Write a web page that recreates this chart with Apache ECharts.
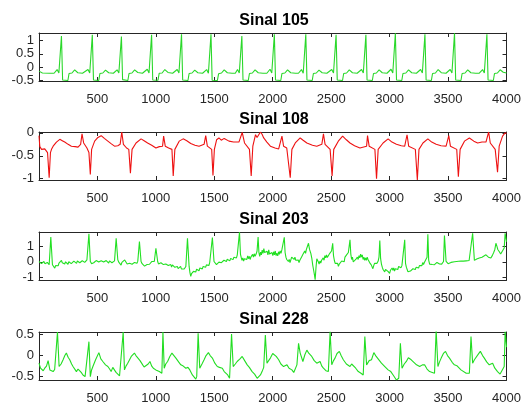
<!DOCTYPE html>
<html>
<head>
<meta charset="utf-8">
<script src="https://cdn.jsdelivr.net/npm/echarts@6/dist/echarts.min.js"></script>
<style>
  html, body { margin: 0; padding: 0; background: #fff; }
  #chart { width: 524px; height: 406px; }
</style>
</head>
<body>
<div id="chart"></div>
<script>
// values, [sample, amplitude]
var sinal105 = [
  [1,-0.15],[12,-0.1],[30,-0.22],[90,-0.23],[130,-0.23],
  [156,-0.09],[171,-0.22],[186,-0.27],[193,1.17],[203,-0.48],[218,-0.51],[248,-0.5],[258,-0.24],[283,-0.22],[306,-0.1],[333,-0.21],[373,-0.23],
  [420,-0.09],[435,-0.22],[450,-0.27],[457,1.21],[467,-0.48],[482,-0.51],[512,-0.5],[522,-0.24],[547,-0.22],[570,-0.11],[597,-0.21],[637,-0.23],
  [669,-0.1],[684,-0.22],[699,-0.27],[706,1.15],[716,-0.47],[731,-0.5],[761,-0.5],[771,-0.24],[796,-0.22],[819,-0.1],[846,-0.2],[886,-0.23],
  [927,-0.08],[942,-0.22],[957,-0.27],[964,1.21],[974,-0.48],[989,-0.51],[1019,-0.49],[1029,-0.23],[1054,-0.22],[1077,-0.09],[1104,-0.2],[1144,-0.23],
  [1183,-0.09],[1198,-0.22],[1213,-0.27],[1220,1.23],[1230,-0.48],[1245,-0.5],[1275,-0.5],[1285,-0.24],[1310,-0.22],[1333,-0.11],[1360,-0.21],[1400,-0.23],
  [1435,-0.09],[1450,-0.23],[1465,-0.27],[1472,1.23],[1482,-0.49],[1497,-0.51],[1527,-0.5],[1537,-0.25],[1562,-0.22],[1585,-0.1],[1612,-0.21],[1652,-0.23],[1680,-0.23],
  [1699,-0.09],[1714,-0.22],[1729,-0.27],[1736,1.17],[1746,-0.48],[1761,-0.51],[1791,-0.5],[1801,-0.24],[1826,-0.22],[1849,-0.1],[1876,-0.21],[1916,-0.23],[1950,-0.23],
  [1977,-0.08],[1992,-0.22],[2007,-0.27],[2014,1.23],[2024,-0.48],[2039,-0.51],[2069,-0.5],[2079,-0.24],[2104,-0.22],[2127,-0.1],[2154,-0.21],[2194,-0.23],[2220,-0.23],
  [2246,-0.09],[2261,-0.23],[2276,-0.27],[2283,1.23],[2293,-0.48],[2308,-0.51],[2338,-0.5],[2348,-0.24],[2373,-0.22],[2396,-0.11],[2423,-0.21],[2463,-0.23],
  [2505,-0.09],[2520,-0.22],[2535,-0.27],[2542,1.21],[2552,-0.48],[2567,-0.5],[2597,-0.5],[2607,-0.24],[2632,-0.22],[2655,-0.1],[2682,-0.21],[2722,-0.23],
  [2760,-0.09],[2775,-0.22],[2790,-0.27],[2797,1.21],[2807,-0.48],[2822,-0.51],[2852,-0.5],[2862,-0.24],[2887,-0.22],[2910,-0.1],[2937,-0.21],[2977,-0.23],
  [3012,-0.08],[3027,-0.22],[3042,-0.27],[3049,1.27],[3059,-0.48],[3074,-0.51],[3104,-0.5],[3114,-0.24],[3139,-0.22],[3162,-0.1],[3189,-0.21],[3229,-0.23],
  [3265,-0.09],[3280,-0.22],[3295,-0.27],[3302,1.23],[3312,-0.48],[3327,-0.51],[3357,-0.5],[3367,-0.24],[3392,-0.22],[3415,-0.09],[3442,-0.21],[3482,-0.23],
  [3518,-0.09],[3533,-0.22],[3548,-0.27],[3555,1.27],[3565,-0.48],[3580,-0.51],[3610,-0.5],[3620,-0.24],[3645,-0.22],[3668,-0.1],[3695,-0.21],[3735,-0.23],[3765,-0.23],
  [3795,-0.09],[3810,-0.22],[3825,-0.27],[3832,1.23],[3842,-0.48],[3857,-0.51],[3887,-0.5],[3897,-0.24],[3922,-0.22],[3945,-0.1],[3972,-0.19],[4000,-0.22]
];

var sinal108 = [
  [1,-0.06],[8,-0.3],[23,-0.36],[50,-0.35],[65,-0.37],[74,-0.43],[88,-0.98],[99,-0.43],[108,-0.36],[122,-0.29],[150,-0.2],[179,-0.14],
  [200,-0.17],[221,-0.2],[250,-0.25],[278,-0.29],[310,-0.3],[335,-0.31],[357,-0.25],[369,-0.02],[383,-0.22],[411,-0.33],[428,-0.43],
  [440,-0.91],[451,-0.36],[477,-0.18],[505,-0.1],[533,-0.06],[560,-0.12],[590,-0.18],[620,-0.24],[647,-0.29],[675,-0.28],[695,-0.25],
  [709,0.02],[723,-0.25],[750,-0.33],[769,-0.36],[783,-0.88],[797,-0.36],[831,-0.22],[874,-0.13],[900,-0.17],[930,-0.22],[965,-0.27],
  [1001,-0.33],[1030,-0.3],[1058,-0.29],[1067,-0.07],[1081,-0.29],[1110,-0.33],[1138,-0.36],[1149,-0.94],[1163,-0.36],[1200,-0.18],
  [1234,-0.13],[1265,-0.17],[1299,-0.23],[1335,-0.27],[1370,-0.29],[1413,-0.25],[1427,-0.06],[1441,-0.29],[1478,-0.36],[1489,-0.93],
  [1501,-0.36],[1520,-0.15],[1540,-0.11],[1560,-0.16],[1585,-0.12],[1626,-0.18],[1665,-0.2],[1711,-0.2],[1739,0.01],[1759,-0.22],
  [1801,-0.36],[1816,-0.94],[1830,-0.29],[1853,-0.04],[1866,-0.1],[1880,-0.08],[1895,0.02],[1909,-0.03],[1923,-0.11],[1950,-0.2],
  [1980,-0.29],[2020,-0.33],[2051,-0.35],[2079,-0.07],[2093,-0.29],[2120,-0.33],[2136,-0.36],[2150,-0.98],[2164,-0.36],[2193,-0.22],
  [2235,-0.11],[2260,-0.16],[2292,-0.22],[2340,-0.27],[2377,-0.29],[2420,-0.25],[2434,-0.02],[2448,-0.25],[2491,-0.36],[2508,-0.94],
  [2522,-0.36],[2561,-0.18],[2598,-0.07],[2630,-0.15],[2661,-0.22],[2700,-0.28],[2746,-0.33],[2803,-0.29],[2811,-0.06],[2825,-0.29],
  [2874,-0.36],[2888,-1.0],[2902,-0.36],[2944,-0.22],[2987,-0.13],[3020,-0.2],[3058,-0.25],[3100,-0.28],[3129,-0.29],[3149,-0.04],
  [3163,-0.29],[3220,-0.36],[3237,-1.03],[3251,-0.36],[3285,-0.22],[3327,-0.13],[3360,-0.2],[3398,-0.25],[3440,-0.28],[3483,-0.29],
  [3506,-0.06],[3520,-0.29],[3574,-0.36],[3588,-0.96],[3603,-0.36],[3640,-0.18],[3682,-0.11],[3720,-0.18],[3753,-0.22],[3790,-0.2],
  [3824,-0.2],[3847,0.02],[3861,-0.22],[3903,-0.36],[3923,-0.86],[3937,-0.29],[3966,-0.07],[3988,0.0],[4000,-0.01]
];

var sinal203 = [
  [1,0.02],[8,-0.06],[15,0.04],[22,-0.12],[29,0.0],[36,-0.08],[43,0.02],[51,-0.12],[58,-0.02],[65,-0.1],[72,-0.04],[80,-0.16],
  [88,-0.19],[102,1.6],[116,-0.19],[126,-0.3],[136,-0.41],[143,-0.25],[150,-0.35],[157,-0.18],[165,-0.26],[172,-0.08],[180,-0.14],
  [193,0.09],[200,-0.06],[207,-0.16],[214,-0.04],[221,-0.14],[228,0.0],[235,-0.12],[242,-0.02],[249,-0.16],[256,0.0],[263,-0.1],
  [270,0.02],[277,-0.12],[284,0.0],[292,-0.08],[299,0.04],[306,-0.06],[315,0.03],[322,-0.1],[329,0.05],[336,-0.04],[343,0.06],
  [350,-0.06],[357,0.04],[364,-0.05],[371,0.07],[378,-0.02],[385,0.08],[392,-0.04],[399,0.08],[411,0.13],[428,1.81],[440,0.02],
  [451,-0.12],[462,-0.22],[469,-0.06],[476,0.04],[483,-0.06],[490,0.08],[497,-0.02],[505,0.1],[512,-0.02],[519,0.08],[526,-0.06],
  [533,0.06],[540,-0.04],[547,0.1],[554,-0.02],[561,0.08],[568,-0.06],[576,0.08],[583,-0.04],[590,0.06],[597,-0.08],[604,0.06],
  [611,-0.04],[618,0.08],[625,-0.06],[632,0.02],[647,0.06],[661,1.53],[675,0.13],[683,-0.02],[690,-0.14],[697,-0.06],[703,-0.22],
  [710,-0.04],[720,0.04],[727,-0.05],[734,0.12],[741,0.02],[748,0.06],[755,-0.14],[762,-0.06],[769,-0.2],[776,-0.1],[783,-0.2],
  [790,-0.04],[797,-0.16],[804,-0.06],[811,-0.18],[818,-0.04],[825,-0.14],[832,0.0],[839,-0.1],[846,0.04],[851,0.02],[860,1.31],
  [874,0.02],[883,-0.12],[890,-0.24],[897,-0.14],[904,-0.28],[911,-0.2],[918,-0.34],[925,-0.18],[932,-0.22],[939,-0.08],[946,-0.16],
  [953,-0.04],[960,-0.12],[967,0.02],[974,-0.06],[981,0.06],[987,0.02],[1001,0.88],[1016,0.02],[1023,-0.14],[1030,-0.04],[1037,-0.16],
  [1044,-0.06],[1051,-0.14],[1058,-0.04],[1065,-0.18],[1072,-0.1],[1079,-0.26],[1086,-0.14],[1093,-0.22],[1100,-0.1],[1107,-0.24],
  [1114,-0.14],[1121,-0.28],[1128,-0.18],[1135,-0.34],[1142,-0.2],[1149,-0.3],[1156,-0.22],[1163,-0.36],[1170,-0.26],[1177,-0.4],
  [1184,-0.3],[1191,-0.44],[1198,-0.32],[1205,-0.42],[1212,-0.3],[1219,-0.46],[1226,-0.36],[1233,-0.5],[1243,-0.47],[1257,-0.3],
  [1271,1.53],[1285,-0.3],[1292,-0.7],[1299,-0.95],[1306,-0.76],[1315,-0.84],[1322,-0.62],[1328,-0.72],[1335,-0.52],[1342,-0.66],
  [1349,-0.48],[1356,-0.6],[1363,-0.44],[1370,-0.58],[1377,-0.4],[1384,-0.52],[1391,-0.34],[1398,-0.46],[1405,-0.3],[1412,-0.42],
  [1419,-0.24],[1426,-0.36],[1433,-0.2],[1440,-0.3],[1447,-0.12],[1454,-0.24],[1461,-0.06],[1470,-0.12],[1484,1.57],
  [1498,0.02],[1505,-0.1],[1512,-0.02],[1519,-0.18],[1526,-0.08],[1533,-0.2],[1540,-0.02],[1547,-0.1],[1554,0.05],[1561,-0.06],
  [1569,0.06],[1576,-0.04],[1583,0.1],[1590,0.0],[1597,0.12],[1604,0.02],[1611,0.16],[1618,0.05],[1626,0.2],[1633,0.06],[1640,0.22],
  [1647,0.1],[1654,0.28],[1661,0.14],[1668,0.3],[1675,0.18],[1682,0.34],[1690,0.25],[1697,0.45],[1705,0.56],[1716,1.92],[1724,0.5],
  [1730,0.3],[1737,0.1],[1744,0.25],[1751,0.05],[1758,0.2],[1765,0.08],[1772,0.3],[1779,0.15],[1786,0.38],[1793,0.2],[1800,0.35],
  [1807,0.15],[1814,0.32],[1821,0.25],[1828,0.48],[1835,0.3],[1842,0.52],[1849,0.35],[1858,0.5],[1866,0.7],[1875,1.6],[1882,0.6],
  [1889,0.35],[1896,0.62],[1903,0.45],[1910,0.75],[1917,0.55],[1924,0.85],[1931,0.6],[1938,0.72],[1945,0.5],[1952,0.68],[1959,0.45],
  [1966,0.78],[1973,0.5],[1980,0.62],[1987,0.42],[1994,0.6],[2001,0.4],[2008,0.65],[2015,0.45],[2022,0.7],[2029,0.4],[2036,0.55],
  [2043,0.38],[2050,0.65],[2057,0.48],[2064,0.7],[2071,0.55],[2079,0.8],[2090,0.9],[2099,1.59],[2106,0.6],[2113,0.3],[2120,0.15],
  [2127,0.25],[2134,0.02],[2141,0.15],[2148,-0.05],[2155,0.12],[2162,0.3],[2169,0.18],[2176,0.35],[2183,0.15],[2190,0.3],[2197,0.1],
  [2204,0.2],[2211,-0.02],[2218,0.12],[2225,-0.05],[2232,0.1],[2239,0.02],[2246,0.3],[2253,0.2],[2260,0.5],[2267,0.4],[2274,0.7],
  [2281,0.55],[2288,0.8],[2295,0.7],[2306,1.2],[2315,0.8],[2326,0.55],[2335,0.2],[2342,-0.2],[2349,-0.5],[2356,-0.8],[2363,-1.16],
  [2370,-0.4],[2377,0.2],[2383,0.3],[2390,0.0],[2397,-0.15],[2404,0.05],[2411,-0.08],[2418,0.1],[2425,0.0],[2432,0.25],[2439,0.1],
  [2446,0.4],[2453,0.25],[2460,0.45],[2467,0.28],[2474,0.4],[2481,0.3],[2488,0.55],[2495,0.45],[2503,0.7],[2513,1.2],[2520,0.4],
  [2527,0.1],[2534,-0.1],[2541,0.0],[2548,-0.2],[2555,-0.1],[2562,-0.3],[2569,-0.15],[2576,-0.05],[2583,-0.15],[2590,0.05],
  [2597,-0.05],[2604,0.1],[2611,0.0],[2618,0.3],[2625,0.2],[2632,0.45],[2639,0.35],[2647,0.6],[2654,0.7],[2661,1.42],[2668,0.5],
  [2675,0.15],[2682,0.3],[2689,0.0],[2696,0.1],[2703,-0.05],[2710,0.15],[2717,0.05],[2724,0.3],[2731,0.15],[2738,0.4],[2745,0.25],
  [2752,0.5],[2759,0.3],[2766,0.45],[2773,0.15],[2780,0.3],[2787,0.1],[2794,0.25],[2801,0.1],[2808,0.3],[2815,0.15],[2822,0.2],
  [2829,-0.05],[2836,0.05],[2843,-0.2],[2850,-0.1],[2857,-0.45],[2864,-0.25],[2871,-0.1],[2878,-0.2],[2885,0.0],[2892,-0.1],
  [2902,0.05],[2909,0.3],[2916,1.38],[2923,0.2],[2930,-0.15],[2937,-0.35],[2944,-0.5],[2951,-0.4],[2958,-0.65],[2965,-0.5],
  [2972,-0.6],[2979,-0.4],[2986,-0.62],[2993,-0.5],[3000,-0.75],[3007,-0.55],[3014,-0.65],[3021,-0.4],[3028,-0.55],[3035,-0.4],
  [3042,-0.6],[3049,-0.45],[3056,-0.55],[3063,-0.35],[3070,-0.5],[3077,-0.3],[3084,-0.42],[3091,-0.25],[3098,-0.38],[3105,-0.25],
  [3112,-0.35],[3120,-0.2],[3129,1.42],[3136,-0.1],[3143,-0.35],[3150,-0.5],[3157,-0.65],[3164,-0.55],[3171,-0.75],[3178,-0.6],
  [3185,-0.5],[3192,-0.62],[3199,-0.45],[3206,-0.55],[3213,-0.4],[3220,-0.5],[3227,-0.35],[3234,-0.45],[3241,-0.3],[3248,-0.4],
  [3255,-0.25],[3262,-0.35],[3269,-0.15],[3276,-0.25],[3283,-0.05],[3290,-0.18],[3297,-0.05],[3304,-0.15],[3313,0.02],[3320,0.3],
  [3327,1.78],[3334,0.1],[3342,-0.15],[3350,-0.1],[3358,-0.26],[3365,-0.18],[3372,-0.28],[3384,-0.19],[3391,-0.08],[3398,-0.14],
  [3405,-0.04],[3412,-0.12],[3420,-0.06],[3427,-0.14],[3434,-0.08],[3445,-0.15],[3455,-0.04],[3461,0.02],[3469,1.7],[3483,0.02],
  [3492,-0.06],[3500,-0.12],[3512,-0.09],[3525,-0.04],[3540,-0.02],[3555,0.0],[3569,0.02],[3590,0.03],[3610,0.04],[3630,0.04],
  [3654,0.06],[3680,0.08],[3696,0.09],[3710,1.85],[3725,0.09],[3745,0.18],[3767,0.24],[3780,0.2],[3790,0.3],[3805,0.36],[3824,0.45],
  [3835,0.38],[3845,0.3],[3856,0.2],[3866,0.24],[3878,0.4],[3890,0.6],[3900,0.8],[3909,1.2],[3918,1.0],[3925,0.8],[3937,0.67],
  [3950,0.5],[3966,0.56],[3980,0.9],[3988,1.85],[4000,1.3]
];

var sinal228 = [
  [1,-0.18],[14,-0.3],[37,-0.36],[50,-0.3],[65,-0.25],[79,-0.12],[94,-0.34],[110,-0.36],[122,-0.38],[135,-0.33],[145,-0.3],[159,0.56],
  [173,-0.26],[190,-0.2],[207,-0.1],[222,0.0],[235,0.06],[250,-0.04],[264,-0.1],[280,-0.2],[292,-0.26],[305,-0.3],[321,-0.38],
  [335,-0.32],[349,-0.3],[362,-0.4],[377,-0.46],[395,-0.5],[411,-0.54],[428,0.33],[440,-0.5],[450,-0.35],[462,-0.26],[485,-0.1],
  [513,0.07],[530,-0.08],[547,-0.14],[570,-0.22],[590,-0.26],[605,-0.32],[618,-0.38],[632,-0.28],[647,-0.3],[660,-0.4],[675,-0.44],
  [690,-0.48],[703,-0.5],[721,0.56],[732,-0.34],[745,-0.25],[760,-0.18],[790,-0.02],[817,0.06],[830,0.0],[845,-0.04],[865,-0.12],
  [888,-0.22],[900,-0.27],[916,-0.3],[935,-0.2],[950,-0.14],[965,-0.25],[979,-0.3],[1000,-0.34],[1030,-0.38],[1052,-0.42],[1061,0.56],
  [1072,-0.3],[1085,-0.2],[1101,-0.14],[1120,-0.02],[1138,0.06],[1155,0.0],[1172,-0.06],[1195,-0.15],[1214,-0.22],[1235,-0.25],
  [1257,-0.3],[1275,-0.28],[1291,-0.34],[1313,-0.46],[1330,-0.5],[1342,-0.56],[1350,-0.5],[1362,0.53],[1376,-0.3],[1395,-0.2],
  [1413,-0.1],[1430,0.0],[1450,0.07],[1465,0.0],[1484,-0.06],[1505,-0.18],[1526,-0.26],[1545,-0.28],[1569,-0.3],[1585,-0.38],
  [1597,-0.42],[1615,-0.46],[1631,-0.54],[1640,-0.5],[1648,0.51],[1662,-0.26],[1680,-0.2],[1696,-0.14],[1720,-0.08],[1739,-0.02],
  [1760,-0.12],[1782,-0.22],[1800,-0.28],[1824,-0.38],[1845,-0.44],[1867,-0.54],[1881,-0.5],[1895,-0.46],[1909,-0.38],[1923,-0.28],
  [1937,0.49],[1951,-0.18],[1965,-0.12],[1980,-0.06],[2000,0.05],[2014,0.07],[2030,-0.02],[2051,-0.1],[2070,-0.2],[2093,-0.26],
  [2108,-0.25],[2122,-0.22],[2140,-0.3],[2164,-0.34],[2180,-0.4],[2193,-0.42],[2207,-0.22],[2221,0.29],[2235,0.06],[2258,-0.14],
  [2275,0.02],[2292,0.13],[2310,0.05],[2334,-0.02],[2355,-0.12],[2377,-0.18],[2392,-0.16],[2405,-0.14],[2420,-0.25],[2434,-0.3],
  [2455,-0.36],[2476,-0.38],[2491,0.57],[2505,-0.22],[2520,-0.12],[2533,-0.06],[2550,0.05],[2570,0.1],[2585,0.0],[2604,-0.1],
  [2630,-0.2],[2661,-0.26],[2675,-0.2],[2689,-0.18],[2710,-0.3],[2732,-0.38],[2755,-0.42],[2774,-0.46],[2788,0.45],[2803,-0.22],
  [2825,-0.12],[2845,-0.1],[2865,0.07],[2885,-0.02],[2902,-0.06],[2930,-0.18],[2959,-0.26],[2987,-0.34],[3010,-0.38],[3030,-0.46],
  [3045,-0.5],[3058,-0.58],[3078,-0.54],[3092,0.29],[3106,-0.3],[3125,-0.2],[3143,-0.14],[3160,-0.05],[3171,-0.02],[3185,-0.1],
  [3200,-0.14],[3230,-0.22],[3257,-0.26],[3280,-0.22],[3299,-0.22],[3320,-0.32],[3342,-0.38],[3365,-0.4],[3384,-0.42],[3398,0.6],
  [3413,-0.26],[3427,-0.15],[3441,-0.06],[3460,0.05],[3478,0.1],[3495,0.0],[3512,-0.06],[3535,-0.16],[3554,-0.22],[3575,-0.24],
  [3591,-0.26],[3610,-0.34],[3625,-0.38],[3655,-0.42],[3682,-0.42],[3696,0.45],[3710,-0.18],[3725,-0.1],[3739,-0.06],[3760,0.04],
  [3776,0.1],[3795,0.0],[3810,-0.06],[3830,-0.15],[3852,-0.22],[3865,-0.2],[3881,-0.18],[3900,-0.3],[3923,-0.38],[3945,-0.44],
  [3960,-0.46],[3980,-0.26],[3988,0.57],[4000,0.2]
];

var titles = ['Sinal 105', 'Sinal 108', 'Sinal 203', 'Sinal 228'];
var xTicks = [500, 1000, 1500, 2000, 2500, 3000, 3500, 4000];
var yTicks105 = [-0.5, 0, 0.5, 1];
var yTicks108 = [-1, -0.5, 0];
var yTicks203 = [-1, 0, 1];
var yTicks228 = [-0.5, 0, 0.5];

var chart = echarts.init(document.getElementById('chart'));
var font = 'Liberation Sans, Arial, Helvetica, sans-serif';
var axisColor = '#262626';

var panels = [
  { data: sinal105, color: '#2ad82a', yMin: -0.52, yMax: 1.28, yTicks: yTicks105, top: 33 },
  { data: sinal108, color: '#ee1111', yMin: -1.03, yMax: 0.02, yTicks: yTicks108, top: 132 },
  { data: sinal203, color: '#22e022', yMin: -1.18, yMax: 1.93, yTicks: yTicks203, top: 232 },
  { data: sinal228, color: '#22dd22', yMin: -0.58, yMax: 0.56, yTicks: yTicks228, top: 332 }
];

function plain(v) { return String(v); }

var grid = [], xAxis = [], yAxis = [], series = [], title = [];

panels.forEach(function (p, i) {
  grid.push({ left: 39, width: 470, top: p.top, height: 48 });

  title.push({
    text: titles[i],
    left: 274, top: p.top - 20, textAlign: 'center', padding: 0,
    textStyle: { fontFamily: font, fontSize: 16, fontWeight: 'bold', color: '#000' }
  });

  // bottom + top x axes (matlab box, ticks inside)
  [false, true].forEach(function (isTop) {
    xAxis.push({
      type: 'value', gridIndex: i, min: 1, max: 4000,
      position: isTop ? 'top' : 'bottom',
      axisLine: { show: true, onZero: false, lineStyle: { color: axisColor, width: 1 } },
      axisTick: { show: true, inside: true, length: 4, customValues: xTicks, lineStyle: { color: axisColor } },
      axisLabel: {
        show: !isTop, customValues: xTicks, margin: 12, formatter: plain,
        fontFamily: font, fontSize: 13, color: axisColor
      },
      splitLine: { show: false }
    });
  });

  // left + right y axes
  [false, true].forEach(function (isRight) {
    yAxis.push({
      type: 'value', gridIndex: i, min: p.yMin, max: p.yMax,
      position: isRight ? 'right' : 'left',
      axisLine: { show: true, onZero: false, lineStyle: { color: axisColor, width: 1 } },
      axisTick: { show: true, inside: true, length: 4, customValues: p.yTicks, lineStyle: { color: axisColor } },
      axisLabel: {
        show: !isRight, customValues: p.yTicks, margin: 5, formatter: plain,
        fontFamily: font, fontSize: 13, color: axisColor
      },
      splitLine: { show: false }
    });
  });

  series.push({
    type: 'line', xAxisIndex: i * 2, yAxisIndex: i * 2,
    data: p.data, showSymbol: false, symbol: 'none', clip: true,
    lineStyle: { color: p.color, width: 1.1 },
    silent: true
  });
});

chart.setOption({
  animation: false,
  backgroundColor: '#fff',
  title: title,
  grid: grid,
  xAxis: xAxis,
  yAxis: yAxis,
  series: series
});
</script>
</body>
</html>
